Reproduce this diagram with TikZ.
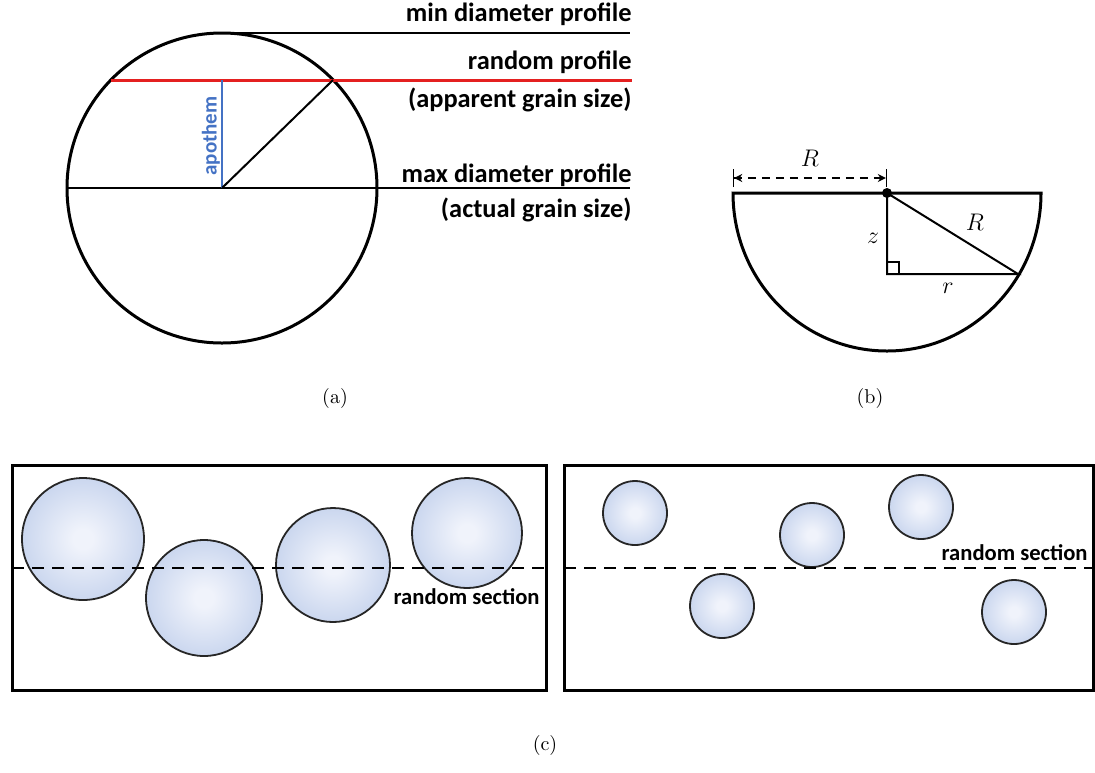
\documentclass[tikz,border=0pt]{standalone}
\usepackage{fontspec}
\newfontfamily\calib{Carlito}
\usetikzlibrary{arrows.meta, positioning, calc}
\definecolor{apored}{RGB}{228,32,32}
\definecolor{apoblue}{RGB}{68,114,196}
\definecolor{ballin}{RGB}{240,243,251}
\definecolor{ballout}{RGB}{158,181,224}
\pgfdeclareradialshading{ballshade}{\pgfpoint{0bp}{0bp}}{color(0bp)=(ballin); color(4bp)=(ballin); color(50bp)=(ballout)}

\begin{document}
\begin{tikzpicture}[x=0.5pt, y=-0.5pt,
  lbl/.style={font=\calib\bfseries\fontsize{13.2}{15}\selectfont, anchor=east, inner sep=0pt},
  sec/.style={font=\calib\bfseries\fontsize{11.3}{13}\selectfont, anchor=east, inner sep=0pt},
  subcap/.style={font=\fontsize{10}{12}\selectfont, inner sep=0pt},
  var/.style={font=\fontsize{13}{15}\selectfont, inner sep=0pt},
  ball/.style={draw=black!85, line width=0.9pt, shading=ballshade},
  frame/.style={draw, line width=1.5pt},
  cut/.style={dash pattern=on 6pt off 4pt, line width=1.2pt}]
\path[use as bounding box] (0,0) rectangle (1095,772);

\coordinate (oa) at (222,188);
\coordinate (ta) at (222,33);
\coordinate (pa) at (333,80);
\draw[line width=1.5pt] (oa) circle[radius=155];
\draw[line width=1.1pt] (67,188) -- (630,188);
\draw[line width=1.1pt] (ta) -- (630,33);
\draw[apored, line width=1.5pt] (111,80) -- (632,80);
\draw[apoblue, line width=0.8pt] (oa) -- (222,80);
\draw[line width=1pt] (oa) -- (pa);
\node[font=\calib\bfseries\fontsize{10.5}{12}\selectfont, text=apoblue, rotate=90, inner sep=0pt] (apo) at (211,136) {apothem};
\node[lbl] (minp) at (632,14) {min diameter profile};
\node[lbl] (rndp) at (632,62) {random profile};
\node[lbl] (appg) at (632,100) {(apparent grain size)};
\node[lbl] (maxp) at (632,175) {max diameter profile};
\node[lbl] (actg) at (632,210) {(actual grain size)};
\node[subcap] (capa) at (335,398) {(a)};

\coordinate (ob) at (887,193);
\coordinate (kb) at (887,274);
\coordinate (qb) at (1018,274);
\draw[line width=1.5pt] (733,193) -- (1041,193) arc[start angle=0, end angle=180, x radius=154, y radius=158] -- cycle;
\draw[line width=1pt] (ob) -- (kb) -- (qb) -- cycle;
\draw[line width=0.8pt] (887,262) -| (899,274);
\fill (ob) circle[radius=5];
\draw[dash pattern=on 4pt off 3pt, line width=0.6pt, {Bar[width=9pt]Stealth[length=4pt,width=4pt]}-{Stealth[length=4pt,width=4pt]Bar[width=9pt]}] (733,178) -- (887,178);
\node[var] (rtop) at (810,158) {$R$};
\node[var] (rhyp) at (975,222) {$R$};
\node[var] (zb) at (873,238) {$z$};
\node[var] (rb) at (948,288) {$r$};
\node[subcap] (capb) at (870,398) {(b)};

\draw[frame] (12,465) rectangle (546,690);
\draw[frame] (564,465) rectangle (1093,690);
\foreach \x/\y/\r in {83/539/61, 204/598/58, 333/565/57, 467/533/55}
  \draw[ball] (\x,\y) circle[radius=\r];
\foreach \x/\y in {635/513, 722/606, 812/535, 921/507, 1014/612}
  \draw[ball] (\x,\y) circle[radius=32];
\draw[cut] (12,568) -- (546,568);
\draw[cut] (564,568) -- (1093,568);
\node[sec] (rsl) at (540,597) {random section};
\node[sec] (rsr) at (1088,553) {random section};
\node[subcap] (capc) at (545,745) {(c)};
\end{tikzpicture}
\end{document}
